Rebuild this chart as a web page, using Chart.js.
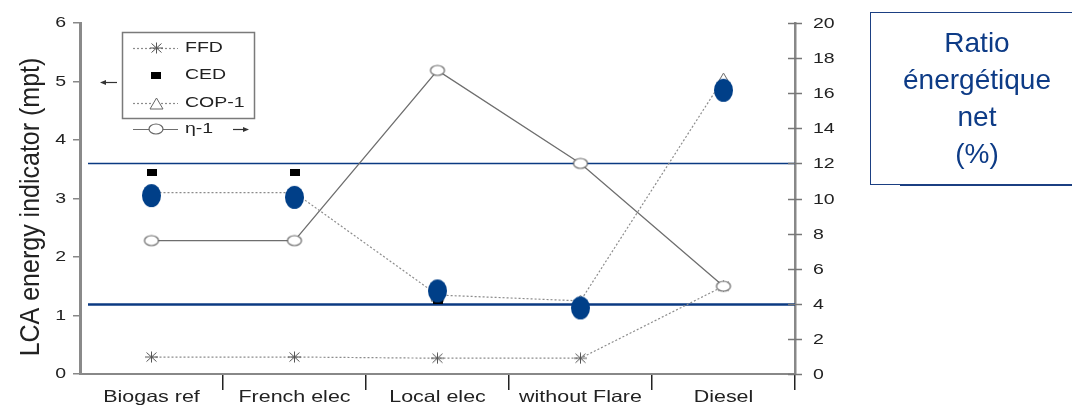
<!DOCTYPE html>
<html>
<head>
<meta charset="utf-8">
<title>LCA energy indicator</title>
<script src="https://cdn.jsdelivr.net/npm/chart.js@4/dist/chart.umd.min.js"></script>
<style>
  html, body { margin: 0; padding: 0; background: #fff; overflow: hidden; }
  #wrap { position: relative; width: 1072px; height: 406px; overflow: hidden; }
  #chart { position: absolute; left: 0; top: 0; }
  #note {
    position: absolute; left: 870px; top: 12px; width: 214px; height: 173px;
    box-sizing: border-box; border: 1.5px solid #1b3f82; padding-top: 11px;
    font-family: "Liberation Sans", Arial, sans-serif; font-size: 28px;
    line-height: 37px; color: #0d3b86; text-align: center;
  }
  #noteShadow {
    position: absolute; left: 900px; top: 184px; width: 200px; height: 2px; background: #1b3f82;
  }
</style>
</head>
<body>
<div id="wrap">
  <canvas id="chart" width="1072" height="406"></canvas>
  <div id="note"><div>Ratio</div><div>énergétique</div><div>net</div><div>(%)</div></div>
  <div id="noteShadow"></div>
</div>
<script>
// Scenarios on the category axis
const categories = ['Biogas ref', 'French elec', 'Local elec', 'without Flare', 'Diesel'];

// Left axis series (mpt)
const ffd = [0.29, 0.29, 0.27, 0.27, 1.5];
const ced = [3.45, 3.45, 1.25, 1.15, 4.9];
const cop1 = [3.1, 3.1, 1.35, 1.25, 5.05];
const netRatio = [3.05, 3.02, 1.42, 1.13, 4.85];   // blue highlight dots

// Right axis series
const eta1 = [7.6, 7.6, 17.3, 12.0, 5.0];

// Tick values
const leftTicks = [0, 1, 2, 3, 4, 5, 6];
const rightTicks = [0, 2, 4, 6, 8, 10, 12, 14, 16, 18, 20];

// Horizontal reference levels on the right axis
const refLevels = [12, 4];

const FONT = '"Liberation Sans", Arial, sans-serif';
const STRETCH = 1.3;

// ---- marker images ----
function makeCanvas(w, h) {
  const c = document.createElement('canvas');
  c.width = w; c.height = h;
  return c;
}
function ellipseMark(w, h, fill, stroke, lw) {
  const pad = lw ? Math.ceil(lw) + 1 : 1;
  const c = makeCanvas(w + 2 * pad, h + 2 * pad);
  const g = c.getContext('2d');
  g.beginPath();
  g.ellipse(c.width / 2, c.height / 2, w / 2, h / 2, 0, 0, Math.PI * 2);
  if (fill) { g.fillStyle = fill; g.fill(); }
  if (stroke) { g.strokeStyle = stroke; g.lineWidth = lw; g.stroke(); }
  return c;
}
function starMark() {
  const c = makeCanvas(15, 12);
  const g = c.getContext('2d');
  g.strokeStyle = '#555';
  g.lineWidth = 1;
  g.beginPath();
  g.moveTo(1, 6); g.lineTo(14, 6);
  g.moveTo(7.5, 0.5); g.lineTo(7.5, 11.5);
  g.moveTo(2.5, 1.5); g.lineTo(12.5, 10.5);
  g.moveTo(2.5, 10.5); g.lineTo(12.5, 1.5);
  g.stroke();
  return c;
}
function triangleMark() {
  const c = makeCanvas(15, 13);
  const g = c.getContext('2d');
  g.beginPath();
  g.moveTo(7.5, 1); g.lineTo(14, 12); g.lineTo(1, 12); g.closePath();
  g.fillStyle = '#fff'; g.fill();
  g.strokeStyle = '#666'; g.lineWidth = 1; g.stroke();
  return c;
}
function squareMark() {
  const c = makeCanvas(10, 7);
  const g = c.getContext('2d');
  g.fillStyle = '#000';
  g.fillRect(0, 0, 10, 7);
  return c;
}

const blueDot = ellipseMark(19, 23, '#003f88', null, 0);
const ring = ellipseMark(14, 10, '#fff', '#666', 1.2);
const star = starMark();
const tri = triangleMark();
const square = squareMark();

// draw text horizontally widened
function wideText(ctx, text, x, y, align, sx) {
  ctx.save();
  ctx.translate(x, y);
  ctx.scale(sx, 1);
  ctx.textAlign = align;
  ctx.fillText(text, 0, 0);
  ctx.restore();
}

function arrow(ctx, x1, x2, y) {
  const dir = Math.sign(x2 - x1);
  ctx.beginPath();
  ctx.moveTo(x1, y); ctx.lineTo(x2 - dir * 5, y);
  ctx.stroke();
  ctx.beginPath();
  ctx.moveTo(x2, y); ctx.lineTo(x2 - dir * 6, y - 2.5); ctx.lineTo(x2 - dir * 6, y + 2.5);
  ctx.closePath(); ctx.fill();
}

// Reference levels behind the data
const refLinesPlugin = {
  id: 'refLines',
  beforeDatasetsDraw(chart) {
    const { ctx, chartArea } = chart;
    const yr = chart.scales.y1;
    ctx.save();
    ctx.strokeStyle = '#0b3a82';
    refLevels.forEach((v, i) => {
      const y = Math.round(yr.getPixelForValue(v)) + 0.5;
      ctx.lineWidth = i === 0 ? 1.3 : 2.4;
      ctx.beginPath();
      ctx.moveTo(chartArea.left + 8, y);
      ctx.lineTo(chartArea.right, y);
      ctx.stroke();
    });
    ctx.restore();
  }
};

// Axis labels, titles and the legend
const annotationsPlugin = {
  id: 'annotations',
  afterDraw(chart) {
    const { ctx, chartArea } = chart;
    const yl = chart.scales.y, yr = chart.scales.y1, xs = chart.scales.x;
    ctx.save();
    ctx.fillStyle = '#222';
    ctx.textBaseline = 'middle';

    // left tick labels
    ctx.font = '15px ' + FONT;
    leftTicks.forEach(v => wideText(ctx, String(v), 66, yl.getPixelForValue(v), 'right', STRETCH));

    // right axis cross ticks and labels
    ctx.strokeStyle = '#777';
    ctx.lineWidth = 1.5;
    rightTicks.forEach(v => {
      const y = Math.round(yr.getPixelForValue(v)) + 0.5;
      ctx.beginPath();
      ctx.moveTo(chartArea.right - 7, y);
      ctx.lineTo(chartArea.right + 7, y);
      ctx.stroke();
      wideText(ctx, String(v), 813, y, 'left', STRETCH);
    });

    // category labels
    ctx.font = '16.5px ' + FONT;
    categories.forEach((c, i) => wideText(ctx, c, xs.getPixelForValue(i), 397, 'center', STRETCH));

    // left axis title
    ctx.save();
    ctx.translate(31, 207);
    ctx.rotate(-Math.PI / 2);
    ctx.scale(1, 1.1);
    ctx.font = '25px ' + FONT;
    ctx.textAlign = 'center';
    ctx.fillText('LCA energy indicator (mpt)', 0, 0);
    ctx.restore();

    // legend box
    ctx.strokeStyle = '#7a7a7a';
    ctx.lineWidth = 1.5;
    ctx.strokeRect(122.5, 32.5, 132, 86);

    const mx = 156, lx1 = 133, lx2 = 178, tx = 185;
    const rows = [
      { name: 'FFD', y: 48, img: star, dash: [2, 2], color: '#8c8c8c' },
      { name: 'CED', y: 75, img: square, dash: null },
      { name: 'COP-1', y: 103, img: tri, dash: [2, 2], color: '#8c8c8c' },
      { name: 'η-1', y: 129, img: ring, dash: [], color: '#6e6e6e' }
    ];
    ctx.font = '15px ' + FONT;
    rows.forEach(r => {
      if (r.dash) {
        ctx.strokeStyle = r.color;
        ctx.lineWidth = 1.2;
        ctx.setLineDash(r.dash);
        ctx.beginPath();
        ctx.moveTo(lx1, r.y + 0.5); ctx.lineTo(lx2, r.y + 0.5);
        ctx.stroke();
        ctx.setLineDash([]);
      }
      ctx.drawImage(r.img, Math.round(mx - r.img.width / 2), Math.round(r.y - r.img.height / 2));
      ctx.fillStyle = '#222';
      wideText(ctx, r.name, tx, r.y, 'left', STRETCH);
    });

    // axis pointers
    ctx.strokeStyle = '#333';
    ctx.fillStyle = '#333';
    ctx.lineWidth = 1.2;
    arrow(ctx, 117, 100, 82.5);
    arrow(ctx, 233, 249, 129.5);
    ctx.restore();
  }
};

const lineBase = { tension: 0, pointRadius: 6, clip: false, fill: false };

new Chart(document.getElementById('chart'), {
  type: 'line',
  data: {
    labels: categories,
    datasets: [
      { ...lineBase, label: 'net', data: netRatio, yAxisID: 'y', showLine: false,
        pointStyle: blueDot, order: 0 },
      { ...lineBase, label: 'CED', data: ced, yAxisID: 'y', showLine: false,
        pointStyle: square, order: 1 },
      { ...lineBase, label: 'COP-1', data: cop1, yAxisID: 'y', borderColor: '#8c8c8c',
        borderWidth: 1.2, borderDash: [2, 2], pointStyle: tri, order: 2 },
      { ...lineBase, label: 'η-1', data: eta1, yAxisID: 'y1', borderColor: '#6e6e6e',
        borderWidth: 1.3, pointStyle: ring, order: 3 },
      { ...lineBase, label: 'FFD', data: ffd, yAxisID: 'y', borderColor: '#8c8c8c',
        borderWidth: 1.2, borderDash: [2, 2], pointStyle: star, order: 4 }
    ]
  },
  options: {
    responsive: false,
    animation: false,
    events: [],
    layout: { padding: { top: 23, right: 217, left: 0, bottom: 0 } },
    plugins: { legend: { display: false }, tooltip: { enabled: false } },
    scales: {
      x: {
        type: 'category',
        offset: true,
        ticks: { display: false },
        grid: {
          offset: true,
          drawOnChartArea: false,
          drawTicks: true,
          tickLength: 16,
          lineWidth: 1.5,
          color: (c) => (c.index === 0 || c.index === categories.length) ? 'rgba(0,0,0,0)' : '#222'
        },
        border: { color: '#888', width: 2 },
        afterFit: (s) => { s.height = 32; }
      },
      y: {
        position: 'left',
        min: 0, max: 6,
        ticks: { stepSize: 1, display: false },
        grid: { drawOnChartArea: false, tickLength: 7, color: '#888', lineWidth: 1.5 },
        border: { color: '#8a8a8a', width: 3 },
        afterFit: (s) => { s.width = 80; }
      },
      y1: {
        position: 'right',
        min: 0, max: 20,
        ticks: { stepSize: 2, display: false },
        grid: { drawOnChartArea: false, drawTicks: false },
        border: { color: '#888', width: 2.5 },
        afterFit: (s) => { s.width = 60; }
      }
    }
  },
  plugins: [refLinesPlugin, annotationsPlugin]
});
</script>
</body>
</html>
